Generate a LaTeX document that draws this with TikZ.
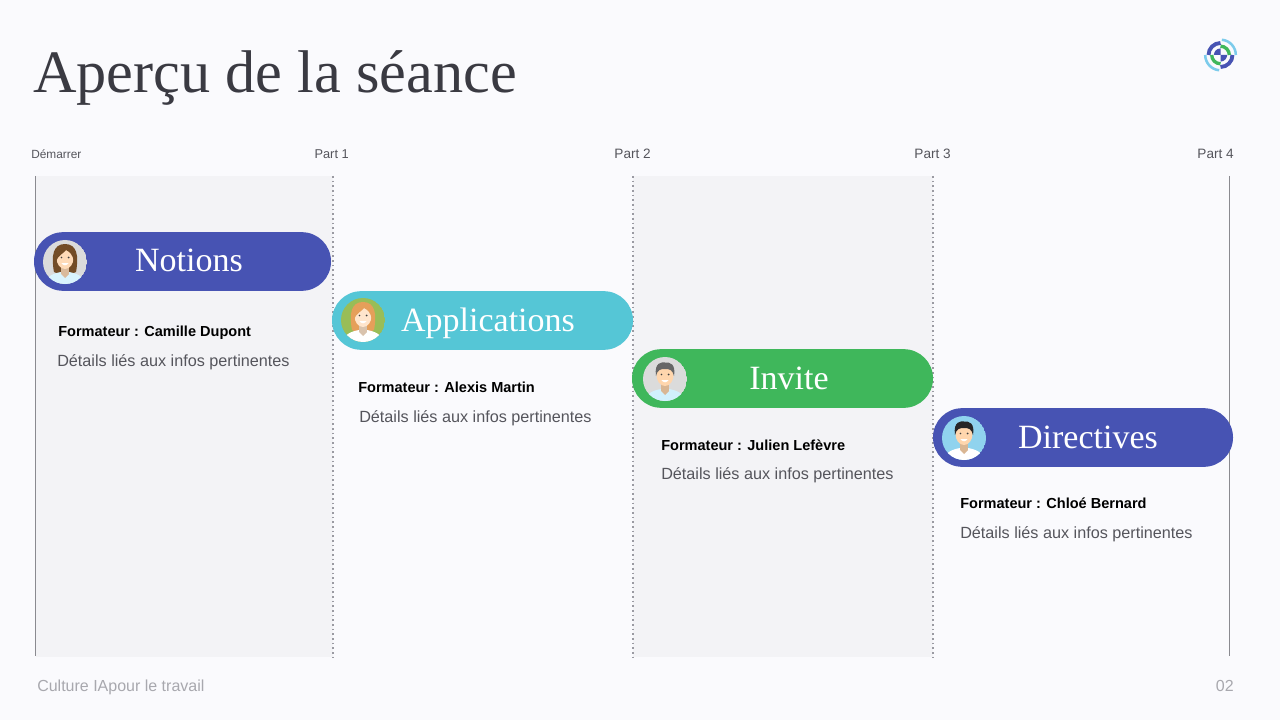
\documentclass[tikz,border=0pt]{standalone}
\usepackage{fontspec}
\setmainfont{Liberation Sans}
\newfontfamily\serifface{Liberation Serif}
\definecolor{bgc}{HTML}{FAFAFD}
\definecolor{bandc}{HTML}{F3F3F6}
\definecolor{linec}{HTML}{8A8A90}
\definecolor{dotc}{HTML}{9A9AA2}
\definecolor{indigoc}{HTML}{4753B3}
\definecolor{cyanc}{HTML}{55C6D6}
\definecolor{greenc}{HTML}{3FB75B}
\definecolor{lightc}{HTML}{7CCBEB}
\definecolor{titlec}{HTML}{3A3A42}
\definecolor{greyc}{HTML}{55555C}
\definecolor{footc}{HTML}{A8A8AE}
\tikzset{
  x=0.75pt,y=-0.75pt,
  band/.style={fill=bandc,draw=none},
  solidline/.style={draw=linec,line width=0.75pt},
  dotline/.style={draw=dotc,line width=1pt,dash pattern=on 1.2pt off 2.3pt},
  pill/.style={draw=none,minimum height=44pt,rounded corners=21.9pt,inner sep=0pt},
  pilltext/.style={text=white,font=\serifface\fontsize{25.5pt}{28pt}\selectfont,inner sep=0pt,anchor=base},
  trainer/.style={text=black,font=\fontsize{10.9pt}{13pt}\selectfont\bfseries,inner sep=0pt,anchor=base west},
  detail/.style={text=greyc,font=\fontsize{12.15pt}{14pt}\selectfont,inner sep=0pt,anchor=base west},
  partlabel/.style={text=greyc,font=\fontsize{10.2pt}{12pt}\selectfont,inner sep=0pt,anchor=base east},
  foot/.style={text=footc,font=\fontsize{12pt}{14pt}\selectfont,inner sep=0pt,anchor=base},
}
% #1 centre x, #2 centre y, #3 backdrop, #4 hair, #5 skin, #6 shirt, #7 long hair (1) or short (0)
\newcommand{\portrait}[7]{%
  \begin{scope}[shift={(#1,#2)}]
    \clip (0,0) circle[radius=22];
    \fill[#3] (0,0) circle[radius=22];
    \ifnum#7=1
      \fill[#4] (-11,10) .. controls (-14,-6) and (-12,-18) .. (0,-18) .. controls (12,-18) and (14,-6) .. (11,10) .. controls (5,13) and (-5,13) .. (-11,10) -- cycle;
    \fi
    \fill[#6] (-22,24) .. controls (-20,14) and (-10,11) .. (-4,10) -- (4,10) .. controls (10,11) and (20,14) .. (22,24) -- cycle;
    \fill[#5!85!black] (-4,3) rectangle (4,12);
    \fill[#5!85!black] (-4,12) -- (4,12) -- (0,16) -- cycle;
    \fill[#5] (0,-4) ellipse[x radius=8.5,y radius=11];
    \ifnum#7=0
      \fill[#4] (-9,-3) .. controls (-11,-17) and (-3,-17) .. (0,-16.5) .. controls (5,-17) and (11,-15) .. (9,-3) .. controls (7.5,-9) and (5,-10) .. (0,-10) .. controls (-5,-10) and (-7.5,-9) .. (-9,-3) -- cycle;
    \else
      \fill[#4] (-9,0) .. controls (-10,-12) and (-4,-16) .. (1,-16) .. controls (6,-16) and (10,-10) .. (9,0) .. controls (8,-7) and (5,-10) .. (1,-12) .. controls (-2,-8) and (-7,-7) .. (-9,0) -- cycle;
    \fi
    \fill[black!75] (-3.6,-4.5) circle[radius=0.9];
    \fill[black!75] (3.6,-4.5) circle[radius=0.9];
    \fill[white] (-3.6,1) .. controls (-1.5,4) and (1.5,4) .. (3.6,1) -- cycle;
  \end{scope}}
\begin{document}
\begin{tikzpicture}
\useasboundingbox (0,0) rectangle (1280,720);
\fill[bgc] (0,0) rectangle (1280,720);
% bands
\fill[band] (36,176) rectangle (333,657);
\fill[band] (633,176) rectangle (933,657);
% guide lines
\coordinate (l0t) at (35.5,176); \coordinate (l0b) at (35.5,656);
\coordinate (l1t) at (333,176);  \coordinate (l1b) at (333,657);
\coordinate (l2t) at (633,176);  \coordinate (l2b) at (633,657);
\coordinate (l3t) at (933,176);  \coordinate (l3b) at (933,657);
\coordinate (l4t) at (1229.5,176); \coordinate (l4b) at (1229.5,656);
\draw[solidline] (l0t) -- (l0b);
\draw[dotline] (l1t) -- (l1b);
\draw[dotline] (l2t) -- (l2b);
\draw[dotline] (l3t) -- (l3b);
\draw[solidline] (l4t) -- (l4b);
% title
\node[text=titlec,font=\serifface\fontsize{45.2pt}{50pt}\selectfont,inner sep=0pt,anchor=base west] (title) at (33,93) {Aperçu de la séance};
% logo
\begin{scope}[shift={(1220.5,55)},yscale=-1]
  \draw[lightc,line width=1.9pt] (0:15.3) arc[start angle=0,end angle=85,radius=15.3];
  \draw[lightc,line width=1.9pt] (180:15.3) arc[start angle=180,end angle=265,radius=15.3];
  \draw[indigoc,line width=2.9pt] (90:12) arc[start angle=90,end angle=180,radius=12];
  \draw[indigoc,line width=2.9pt] (270:12) arc[start angle=270,end angle=360,radius=12];
  \draw[greenc,line width=2.5pt] (0:8.8) arc[start angle=0,end angle=90,radius=8.8];
  \draw[greenc,line width=2.5pt] (180:8.8) arc[start angle=180,end angle=270,radius=8.8];
  \fill[indigoc] (0,0) -- (-6.6,0) arc[start angle=180,end angle=90,radius=6.6] -- cycle;
  \fill[indigoc] (0,0) -- (6.6,0) arc[start angle=0,end angle=-90,radius=6.6] -- cycle;
\end{scope}
% top labels
\node[partlabel,font=\fontsize{8.9pt}{10pt}\selectfont,anchor=base west] (m0) at (31,159) {Démarrer};
\node[partlabel,font=\fontsize{9.6pt}{11pt}\selectfont] (m1) at (349,159) {Part 1};
\node[partlabel] (m2) at (651,159) {Part 2};
\node[partlabel] (m3) at (951,159) {Part 3};
\node[partlabel] (m4) at (1234,159) {Part 4};
% pills
\node[pill,fill=indigoc,minimum width=222.75pt] (p1) at (182.5,261.5) {};
\node[pill,fill=cyanc,minimum width=225.75pt] (p2) at (482.5,320.5) {};
\node[pill,fill=greenc,minimum width=225.75pt] (p3) at (782.5,378.5) {};
\node[pill,fill=indigoc,minimum width=225pt] (p4) at (1083,437.5) {};
\node[pilltext] at (189,272) {Notions};
\node[pilltext] at (488,331) {Applications};
\node[pilltext] at (789,389) {Invite};
\node[pilltext] at (1088,448) {Directives};
% portraits
\portrait{65}{262}{black!14}{brown!60!black}{orange!28!white}{cyan!15!white}{1}
\portrait{363}{320}{yellow!55!green!65!gray}{orange!45!brown!75}{orange!20!white}{white}{1}
\portrait{665}{379}{black!14}{black!60}{orange!32!white}{cyan!18!white}{0}
\portrait{964}{438}{lightc!85!white}{black!85}{orange!32!white}{white}{0}
% texts
\node[trainer] at (58,336) {Formateur : Camille Dupont};
\node[detail] at (57,366) {Détails liés aux infos pertinentes};
\node[trainer] at (358,392) {Formateur : Alexis Martin};
\node[detail] at (359,422) {Détails liés aux infos pertinentes};
\node[trainer] at (661,450) {Formateur : Julien Lefèvre};
\node[detail] at (661,479) {Détails liés aux infos pertinentes};
\node[trainer] at (960,508) {Formateur : Chloé Bernard};
\node[detail] at (960,538) {Détails liés aux infos pertinentes};
% footer
\node[foot,anchor=base west] at (37,691) {Culture IApour le travail};
\node[foot,anchor=base east] at (1234,691) {02};
\end{tikzpicture}
\end{document}
